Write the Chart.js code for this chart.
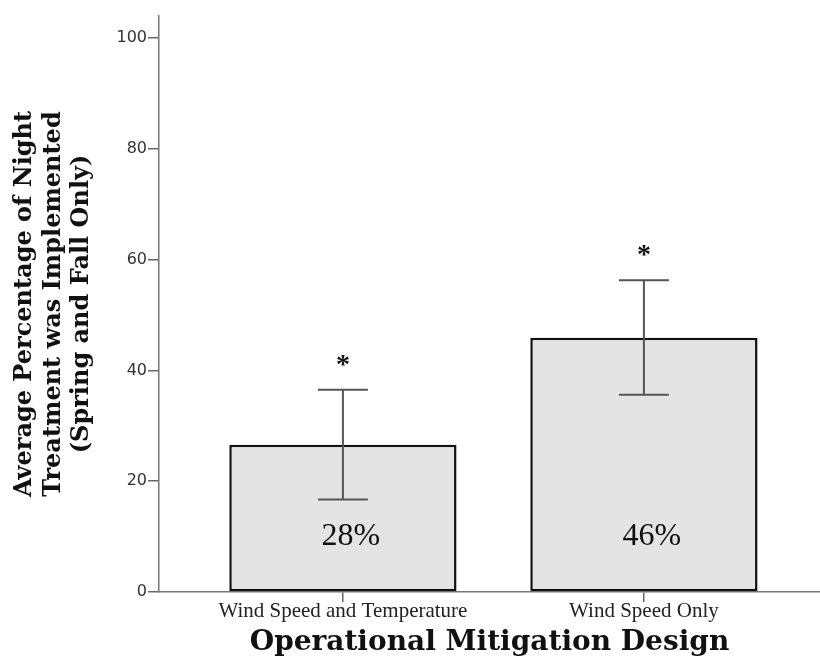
<!DOCTYPE html>
<html>
<head>
<meta charset="utf-8">
<script src="https://cdn.jsdelivr.net/npm/chart.js@4.4.1/dist/chart.umd.min.js"></script>
<style>
  html, body { margin: 0; padding: 0; background: #fff; }
</style>
</head>
<body>
<canvas id="chart" width="820" height="667"></canvas>
<script>
// ===============================
// Data
// ===============================
const categories = ['Wind Speed and Temperature', 'Wind Speed Only'];
const meanValues = [26.6, 45.9];
const errorLow = [16.7, 35.6];
const errorHigh = [36.5, 56.3];
const barLabels = ['28%', '46%'];
const significance = ['*', '*'];
const yTicks = [0, 20, 40, 60, 80, 100];

const serif = '"Liberation Serif", "DejaVu Serif", serif';
const boldSerif = '"DejaVu Serif", "Liberation Serif", serif';

// Error bars, significance stars and % labels
const errorBarPlugin = {
  id: 'errorBars',
  afterDatasetsDraw(chart) {
    const { ctx, scales: { x, y } } = chart;
    ctx.save();
    categories.forEach((c, i) => {
      const px = x.getPixelForValue(i + 1);
      const top = y.getPixelForValue(errorHigh[i]);
      const bot = y.getPixelForValue(errorLow[i]);
      ctx.strokeStyle = '#555';
      ctx.lineWidth = 2;
      ctx.beginPath();
      ctx.moveTo(px, top); ctx.lineTo(px, bot);
      ctx.moveTo(px - 25, top); ctx.lineTo(px + 25, top);
      ctx.moveTo(px - 25, bot); ctx.lineTo(px + 25, bot);
      ctx.stroke();

      ctx.fillStyle = '#111';
      ctx.textAlign = 'center';
      ctx.textBaseline = 'alphabetic';
      ctx.font = 'bold 28px ' + serif;
      ctx.fillText(significance[i], px, top - 17);

      ctx.textBaseline = 'middle';
      ctx.font = '32px ' + serif;
      ctx.fillText(barLabels[i], px + 8, y.getPixelForValue(10));
    });
    ctx.restore();
  }
};

const ctx = document.getElementById('chart').getContext('2d');
new Chart(ctx, {
  type: 'bar',
  data: {
    datasets: [{
      data: meanValues.map((v, i) => ({ x: i + 1, y: v })),
      backgroundColor: '#e4e4e4',
      borderColor: '#111',
      borderWidth: 2.5,
      borderSkipped: false,
      barPercentage: 0.755,
      categoryPercentage: 1
    }]
  },
  options: {
    responsive: false,
    animation: false,
    devicePixelRatio: 1,
    layout: { padding: { top: 16, right: 0, left: 0, bottom: 0 } },
    plugins: {
      legend: { display: false },
      tooltip: { enabled: false }
    },
    scales: {
      x: {
        type: 'linear',
        offset: false,
        min: 0.389,
        max: 2.585,
        afterBuildTicks: scale => { scale.ticks = categories.map((c, i) => ({ value: i + 1 })); },
        afterFit: scale => { scale.height = 75; },
        grid: { offset: false, drawOnChartArea: false, tickLength: 10, color: '#666', lineWidth: 1.5 },
        border: { color: '#777', width: 1.5 },
        ticks: {
          padding: -3,
          maxRotation: 0,
          autoSkip: false,
          color: '#222',
          font: { family: serif, size: 21 },
          callback: v => categories[v - 1] || ''
        },
        title: {
          display: true,
          text: 'Operational Mitigation Design',
          color: '#111',
          font: { family: boldSerif, size: 28, weight: 'bold' },
          padding: { top: 0, bottom: 7 }
        }
      },
      y: {
        min: 0,
        max: 104,
        afterBuildTicks: scale => { scale.ticks = yTicks.map(v => ({ value: v })); },
        afterFit: scale => { scale.width = 159; },
        grid: { drawOnChartArea: false, tickLength: 11, color: '#666', lineWidth: 1.5 },
        border: { color: '#777', width: 1.5 },
        ticks: {
          padding: 1,
          color: '#333',
          font: { family: '"DejaVu Sans", sans-serif', size: 16 }
        },
        title: {
          display: true,
          text: ['Average Percentage of Night', 'Treatment was Implemented', '(Spring and Fall Only)'],
          color: '#111',
          font: { family: boldSerif, size: 24, weight: 'bold', lineHeight: 1.18 },
          padding: { top: 11, bottom: 0 }
        }
      }
    }
  },
  plugins: [errorBarPlugin]
});
</script>
</body>
</html>
